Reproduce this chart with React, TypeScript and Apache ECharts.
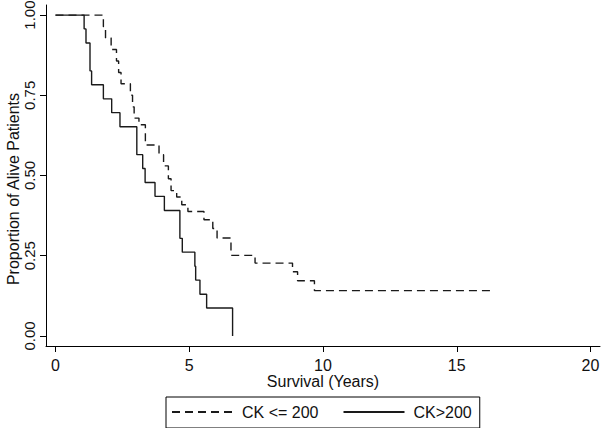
import React, { useEffect, useRef } from "react";
import * as echarts from "echarts";

// Tick values
const xTicks = [0, 5, 10, 15, 20];
const yTicks = [0, 0.25, 0.5, 0.75, 1];

// Kaplan-Meier steps, CK <= 200 (dashed)
const lowCkTimes = [0, 1.79, 1.87, 2.08, 2.28, 2.36, 2.45, 2.8, 2.88, 2.94, 3.12, 3.36, 3.87, 4.04, 4.22, 4.32, 4.53, 4.72, 4.95, 5.55, 5.88, 6.04, 6.56, 7.46, 8.86, 9.05, 9.68, 16.36];
const lowCkSurv = [1, 0.964, 0.929, 0.893, 0.857, 0.821, 0.786, 0.75, 0.714, 0.679, 0.658, 0.595, 0.565, 0.53, 0.49, 0.453, 0.433, 0.409, 0.388, 0.362, 0.335, 0.305, 0.251, 0.227, 0.2, 0.172, 0.141, 0.141];

// Kaplan-Meier steps, CK > 200 (solid)
const highCkTimes = [0, 1.07, 1.14, 1.29, 1.35, 1.79, 2.1, 2.41, 3.04, 3.26, 3.35, 3.72, 4.07, 4.65, 4.74, 5.21, 5.24, 5.4, 5.65, 6.62];
const highCkSurv = [1, 0.957, 0.913, 0.826, 0.783, 0.739, 0.696, 0.652, 0.565, 0.522, 0.478, 0.435, 0.391, 0.304, 0.261, 0.217, 0.174, 0.13, 0.087, 0];

const seriesNames = ["CK <= 200", "CK>200"];

const FONT = "'Liberation Sans', Arial, sans-serif";
const INK = "#111111";
const LINE = "#1a1a1a";

export default function App() {
  const ref = useRef<HTMLDivElement>(null);

  useEffect(() => {
    if (!ref.current) return;
    const chart = echarts.init(ref.current, undefined, { renderer: "svg" });
    const zip = (xs: number[], ys: number[]) => xs.map((x, i) => [x, ys[i]]);

    chart.setOption({
      animation: false,
      backgroundColor: "#ffffff",
      grid: { left: 46, right: 1, top: 5, bottom: 82, containLabel: false, outerBoundsMode: "none" },
      xAxis: {
        type: "value",
        min: -0.355,
        max: 20.355,
        name: "Survival (Years)",
        nameLocation: "middle",
        nameGap: 27,
        nameMoveOverlap: false,
        nameTextStyle: { fontSize: 16, lineHeight: 16, fontFamily: FONT, color: INK },
        axisLine: { show: true, onZero: false, lineStyle: { color: "#000", width: 1 } },
        axisTick: { show: true, length: 6, lineStyle: { color: "#000" }, customValues: xTicks },
        axisLabel: { fontSize: 16, lineHeight: 14, fontFamily: FONT, color: INK, margin: 12, customValues: xTicks },
        splitLine: { show: false },
      },
      yAxis: {
        type: "value",
        min: -0.0315,
        max: 1.0315,
        name: "Proportion of Alive Patients",
        nameLocation: "middle",
        nameGap: 25,
        nameMoveOverlap: false,
        nameTextStyle: { fontSize: 16, fontFamily: FONT, color: INK, padding: [0, 27, 0, 0] },
        axisLine: { show: true, onZero: false, lineStyle: { color: "#000", width: 1 } },
        axisTick: { show: true, length: 6, lineStyle: { color: "#000" }, customValues: yTicks },
        axisLabel: {
          fontSize: 15,
          fontFamily: FONT,
          color: INK,
          rotate: 90,
          margin: 9,
          customValues: yTicks,
          formatter: (v: number) => v.toFixed(2),
        },
        splitLine: { show: false },
      },
      legend: {
        data: seriesNames,
        left: 166,
        top: 397,
        orient: "horizontal",
        padding: [7, 8, 8, 5],
        borderColor: "#000",
        borderWidth: 1,
        itemWidth: 61,
        itemHeight: 14,
        itemGap: 24,
        itemStyle: { opacity: 0 },
        textStyle: { fontSize: 16, fontFamily: FONT, color: INK, padding: [0, 0, 0, 4] },
      },
      series: [
        {
          name: seriesNames[0],
          type: "line",
          step: "end",
          symbol: "none",
          data: zip(lowCkTimes, lowCkSurv),
          lineStyle: { color: LINE, width: 1.4, type: [8, 5] },
          itemStyle: { color: LINE },
        },
        {
          name: seriesNames[1],
          type: "line",
          step: "end",
          symbol: "none",
          data: zip(highCkTimes, highCkSurv),
          lineStyle: { color: LINE, width: 1.4, type: "solid" },
          itemStyle: { color: LINE },
        },
      ],
    });
    return () => chart.dispose();
  }, []);

  return (
    <div
      ref={ref}
      style={{ position: "fixed", left: 0, top: 0, width: 601, height: 428, background: "#fff" }}
    />
  );
}
